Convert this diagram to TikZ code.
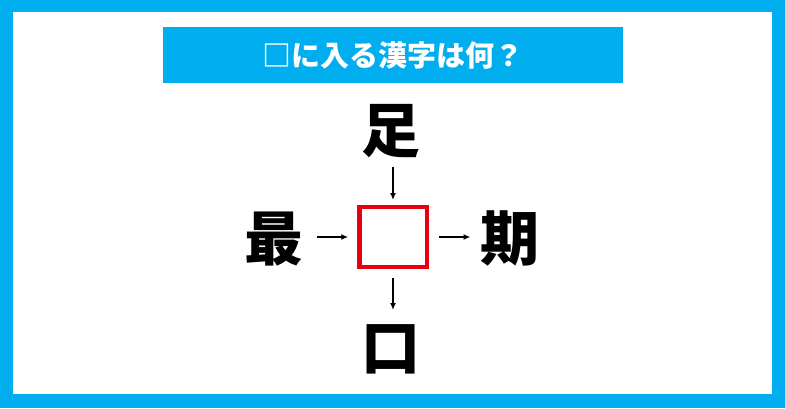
\documentclass[tikz,border=0pt]{standalone}
\usepackage{fontspec}
\newfontfamily\cjk{Noto Sans CJK JP}
\usetikzlibrary{arrows.meta}
\definecolor{skyblue}{RGB}{0,174,239}
\definecolor{boxred}{RGB}{230,0,18}
\begin{document}
\begin{tikzpicture}[x=1bp,y=1bp,
  kanji/.style={inner sep=0pt,outer sep=0pt,minimum width=56bp,minimum height=56bp,
    font=\cjk\bfseries\fontsize{59bp}{59bp}\selectfont},
  answerbox/.style={draw=boxred,line width=4.5bp,inner sep=0pt,outer sep=0pt,
    minimum width=67.5bp,minimum height=60bp},
  arr/.style={line width=1.5bp,-{Latex[length=7bp,width=6bp]}}]
\useasboundingbox (0,0) rectangle (785,408);
\fill[skyblue] (0,0) rectangle (785,408);
\fill[white] (13,14) rectangle (772,396);
\node[fill=skyblue,inner sep=0pt,minimum width=460bp,minimum height=56bp,
  text=white,font=\cjk\bfseries\fontsize{29bp}{29bp}\selectfont] (title) at (393,353) {□に入る漢字は何？};
\node[kanji] (top) at (391,277) {足};
\node[kanji] (left) at (274,169) {最};
\node[kanji] (right) at (510,170) {期};
\node[kanji] (bottom) at (391,59) {口};
\node[answerbox] (box) at (393,171) {};
\draw[arr,shorten <=8bp,shorten >=7bp] (top.south -| box.north) -- (box.north);
\draw[arr,shorten <=11bp,shorten >=11bp] (box.south) -- (bottom.north -| box.south);
\draw[arr,shorten <=13bp,shorten >=11bp] (left.east |- box.west) -- (box.west);
\draw[arr,shorten <=12bp,shorten >=10bp] (box.east) -- (right.west |- box.east);
\end{tikzpicture}
\end{document}
